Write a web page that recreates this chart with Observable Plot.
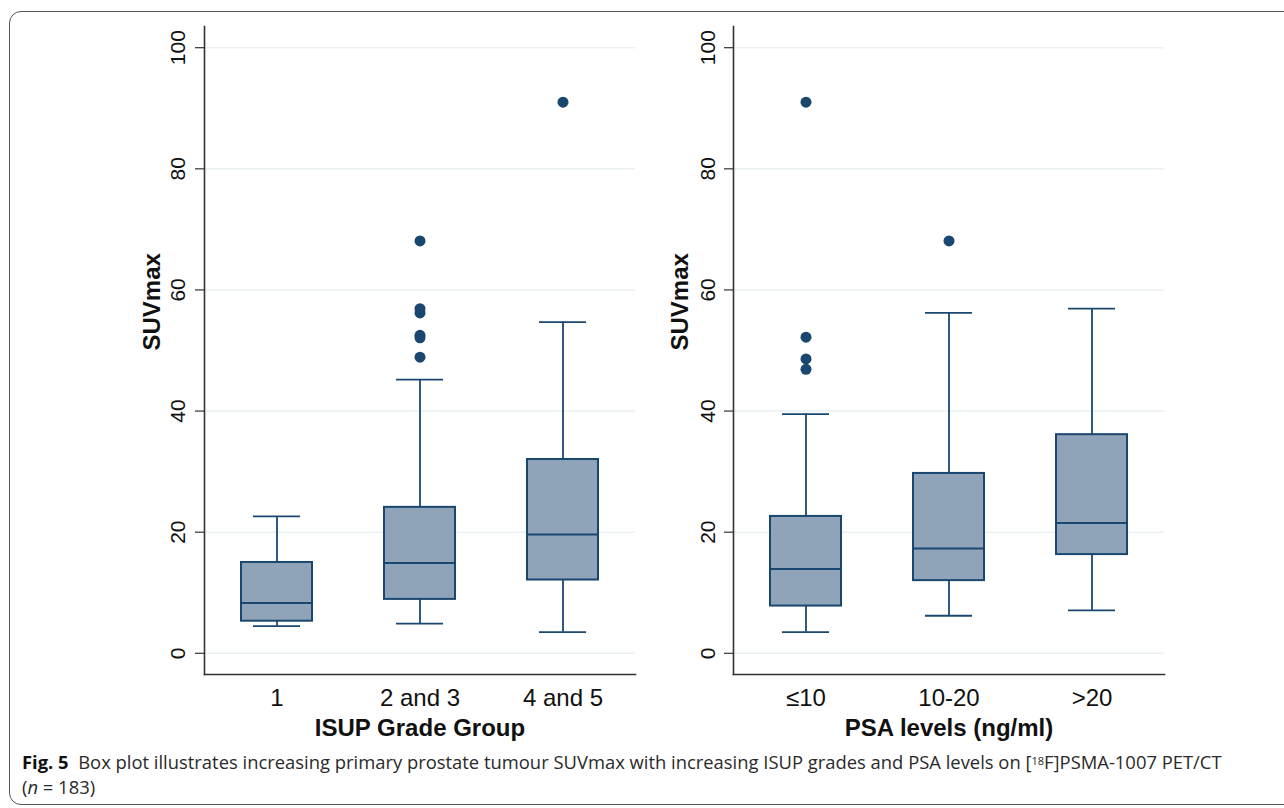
<!DOCTYPE html>
<html>
<head>
<meta charset="utf-8">
<script src="https://cdn.jsdelivr.net/npm/d3@7"></script>
<script src="https://cdn.jsdelivr.net/npm/@observablehq/plot@0.6"></script>
<style>
  html, body { margin: 0; padding: 0; background: #fff; }
  #page { position: relative; width: 1284px; height: 808px; overflow: hidden; background: #fff; }
  #border { position: absolute; left: 9px; top: 11px; width: 1300px; height: 794px; z-index: 5; pointer-events: none;
            border: 1.2px solid #555; border-radius: 12px; box-sizing: border-box; }
  .panel { position: absolute; top: 0; }
  #caption { position: absolute; left: 22px; top: 750px; font-family: "Open Sans", sans-serif;
             font-size: 19px; line-height: 24.5px; color: #2a2a2a; white-space: nowrap; }
  #caption b { font-weight: 700; color: #111; }
  #caption sup { font-size: 0.6em; line-height: 0; vertical-align: 0.4em; }
</style>
</head>
<body>
<div id="page">
  <div id="border"></div>
  <div id="left" class="panel" style="left:120px"></div>
  <div id="right" class="panel" style="left:650px"></div>
  <div id="caption"><div id="line1"><b>Fig. 5</b>&nbsp;&nbsp;Box plot illustrates increasing primary prostate tumour SUVmax with increasing ISUP grades and PSA levels on [<sup>18</sup>F]PSMA-1007 PET/CT</div><div>(<i>n</i> = 183)</div></div>
</div>
<script>
// ---- Data ----
const isupCategories = ["1", "2 and 3", "4 and 5"];
const isupLowerWhisker = [4.5, 4.9, 3.5];
const isupQ1 = [5.3, 8.9, 12.1];
const isupMedian = [8.3, 14.9, 19.6];
const isupQ3 = [15.0, 24.1, 32.0];
const isupUpperWhisker = [22.6, 45.2, 54.7];
const isupOutlierGroups = ["2 and 3", "2 and 3", "2 and 3", "2 and 3", "2 and 3", "2 and 3", "4 and 5"];
const isupOutlierValues = [68.1, 56.9, 56.2, 52.5, 52.1, 48.9, 91.0];

const psaCategories = ["\u226410", "10-20", ">20"];
const psaLowerWhisker = [3.5, 6.2, 7.1];
const psaQ1 = [7.8, 12.0, 16.3];
const psaMedian = [13.9, 17.3, 21.5];
const psaQ3 = [22.6, 29.7, 36.1];
const psaUpperWhisker = [39.5, 56.2, 56.9];
const psaOutlierGroups = ["\u226410", "\u226410", "\u226410", "\u226410", "10-20"];
const psaOutlierValues = [91.0, 52.2, 48.6, 46.9, 68.1];

const yTicks = [0, 20, 40, 60, 80, 100];
const yTitle = "SUVmax";
const isupTitle = "ISUP Grade Group";
const psaTitle = "PSA levels (ng/ml)";

// ---- Styles ----
const navy = "#1a476f";
const boxFill = "#8fa4b8";
const gridColor = "#e9f1f3";
const font = "Liberation Sans, Arial, Helvetica, sans-serif";

function panel(cats, lw, q1, med, q3, uw, og, ov, xTitle, mLeft, mRight, tickDx, titleDx) {
  const boxes = cats.map((c, i) => ({c, lw: lw[i], q1: q1[i], med: med[i], q3: q3[i], uw: uw[i]}));
  const outliers = og.map((c, i) => ({c, v: ov[i]}));
  return Plot.plot({
    width: 530,
    height: 750,
    marginLeft: mLeft,
    marginRight: mRight,
    marginTop: 26,
    marginBottom: 76,
    style: {fontFamily: font, background: "transparent", color: "#111"},
    x: {domain: cats, padding: 0, label: null, axis: null},
    y: {domain: [-3.5, 103.5], label: null, axis: null},
    marks: [
      Plot.gridY(yTicks, {stroke: gridColor, strokeOpacity: 1, strokeWidth: 1.6}),
      Plot.ruleX(boxes, {x: "c", y1: "q3", y2: "uw", stroke: navy, strokeWidth: 1.8}),
      Plot.ruleX(boxes, {x: "c", y1: "lw", y2: "q1", stroke: navy, strokeWidth: 1.8}),
      Plot.tickY(boxes, {x: "c", y: "uw", stroke: navy, strokeWidth: 1.8, insetLeft: 48, insetRight: 48}),
      Plot.tickY(boxes, {x: "c", y: "lw", stroke: navy, strokeWidth: 1.8, insetLeft: 48, insetRight: 48}),
      Plot.barY(boxes, {x: "c", y1: "q1", y2: "q3", fill: boxFill, stroke: navy, strokeWidth: 2, insetLeft: 36, insetRight: 36}),
      Plot.tickY(boxes, {x: "c", y: "med", stroke: navy, strokeWidth: 2, insetLeft: 36, insetRight: 36}),
      Plot.dot(outliers, {x: "c", y: "v", r: 5.5, fill: navy, stroke: null}),
      Plot.axisY(yTicks, {tickSize: 9, stroke: "#333", strokeWidth: 1.2, text: null}),
      Plot.text(yTicks, {y: d => d, frameAnchor: "left", dx: tickDx, rotate: -90, text: d => String(d), fontSize: 21, fill: "#111", textAnchor: "middle", lineAnchor: "middle"}),
      Plot.axisX({tickSize: 0, tickPadding: 14, fontSize: 24, fill: "#111", label: null}),
      Plot.frame({anchor: "left", stroke: "#333", strokeWidth: 1.6}),
      Plot.frame({anchor: "bottom", stroke: "#333", strokeWidth: 1.6}),
      Plot.text([xTitle], {frameAnchor: "bottom", dy: 61, lineAnchor: "bottom", fontSize: 24, fontWeight: "bold", fill: "#111"}),
      Plot.text([yTitle], {frameAnchor: "left", dx: titleDx, rotate: -90, lineAnchor: "middle", fontSize: 24, fontWeight: "bold", fill: "#111"})
    ]
  });
}

document.getElementById("left").appendChild(
  panel(isupCategories, isupLowerWhisker, isupQ1, isupMedian, isupQ3, isupUpperWhisker, isupOutlierGroups, isupOutlierValues, isupTitle, 84, 15, -26, -52)
);
document.getElementById("right").appendChild(
  panel(psaCategories, psaLowerWhisker, psaQ1, psaMedian, psaQ3, psaUpperWhisker, psaOutlierGroups, psaOutlierValues, psaTitle, 83, 16, -25, -53)
);

// fit caption line 1 to the reference width (~1200px) by font size
const cap = document.getElementById("caption");
const line1 = document.getElementById("line1");
line1.style.display = "inline-block";
const w = line1.getBoundingClientRect().width;
cap.style.fontSize = (19 * 1200 / w).toFixed(2) + "px";
line1.style.display = "block";
</script>
</body>
</html>
